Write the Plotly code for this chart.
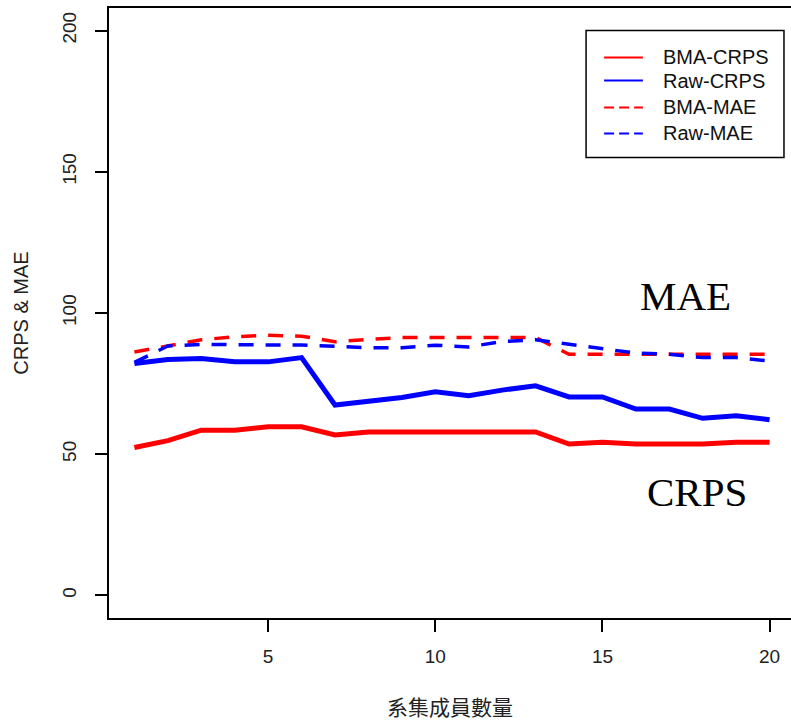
import plotly.graph_objects as go

members = list(range(1, 21))
bma_crps = [52.4, 54.8, 58.5, 58.5, 59.7, 59.7, 56.8, 57.9, 57.9, 57.9,
            57.9, 57.9, 57.9, 53.6, 54.2, 53.6, 53.6, 53.6, 54.2, 54.2]
raw_crps = [82.1, 83.5, 83.9, 82.7, 82.7, 84.2, 67.4, 68.6, 70.1, 72.1,
            70.7, 72.7, 74.2, 70.3, 70.3, 66.0, 66.0, 62.7, 63.6, 62.2]
bma_mae = [86.2, 88.3, 90.5, 91.6, 92.1, 91.8, 89.8, 90.7, 91.3, 91.3,
           91.3, 91.3, 91.3, 85.4, 85.4, 85.4, 85.4, 85.4, 85.4, 85.4]
raw_mae = [82.5, 88.3, 88.9, 88.7, 88.7, 88.7, 88.1, 87.7, 87.7, 88.6,
           88.0, 89.9, 90.5, 88.9, 87.6, 85.8, 85.4, 84.2, 84.2, 83.0]

series_names = ["BMA-CRPS", "Raw-CRPS", "BMA-MAE", "Raw-MAE"]
series_values = [bma_crps, raw_crps, bma_mae, raw_mae]
series_colors = ["#ff0000", "#0000ff", "#ff0000", "#0000ff"]
series_dash = ["solid", "solid", "15px,12px", "15px,12px"]
series_width = [5, 5, 3.5, 3.5]

x_ticks = [5, 10, 15, 20]
y_ticks = [0, 50, 100, 150, 200]

fig = go.Figure()
for name, vals, col, dash, w in zip(series_names, series_values, series_colors,
                                    series_dash, series_width):
    fig.add_trace(go.Scatter(x=members, y=vals, mode="lines", name=name,
                             showlegend=False,
                             line=dict(color=col, width=w, dash=dash)))

# Legend box drawn in data coordinates (top-right, like R's legend("topright"))
shapes = [dict(type="rect", xref="x", yref="y", x0=14.51, x1=20.43, y0=155.1, y1=200.0,
               line=dict(color="black", width=1.5), fillcolor="white", layer="above")]
annotations = []
legend_rows = [190.5, 182.3, 172.8, 163.6]
legend_dash = ["solid", "solid", "10px,5px", "10px,5px"]
for name, col, dash, ry in zip(series_names, series_colors, legend_dash, legend_rows):
    shapes.append(dict(type="line", xref="x", yref="y", x0=15.05, x1=16.21, y0=ry, y1=ry,
                       line=dict(color=col, width=2, dash=dash), layer="above"))
    annotations.append(dict(x=16.75, y=ry, xref="x", yref="y", text=name, showarrow=False,
                            xanchor="left", yanchor="middle",
                            font=dict(family="Liberation Sans, Arial, sans-serif", size=20,
                                      color="#111")))

annotations += [
    dict(x=17.48, y=106, xref="x", yref="y", text="MAE", showarrow=False,
         font=dict(family="Liberation Serif, Times New Roman, serif", size=41, color="black")),
    dict(x=17.84, y=36.5, xref="x", yref="y", text="CRPS", showarrow=False,
         font=dict(family="Liberation Serif, Times New Roman, serif", size=41, color="black")),
]

tick_font = dict(family="Liberation Sans, Arial, sans-serif", size=19, color="#222")

fig.update_layout(
    width=791, height=721,
    margin=dict(l=109, r=0, t=8, b=103),
    plot_bgcolor="white", paper_bgcolor="white",
    showlegend=False,
    shapes=shapes,
    annotations=annotations,
    xaxis=dict(range=[0.24, 20.64], tickvals=x_ticks, ticks="outside", ticklen=12,
               tickwidth=1.5, tickcolor="black", showline=True, linecolor="black",
               linewidth=1.5, mirror=True, showgrid=False, zeroline=False,
               tickfont=tick_font, ticklabelstandoff=8,
               title=dict(text="系集成員數量",
                          font=dict(family="Noto Sans CJK TC, sans-serif", size=21, color="#222"),
                          standoff=35)),
    yaxis=dict(range=[-8, 208], tickvals=y_ticks, ticks="outside", ticklen=12,
               tickwidth=1.5, tickcolor="black", showline=True, linecolor="black",
               linewidth=1.5, mirror=False, showgrid=False, zeroline=False,
               tickfont=tick_font, tickangle=-90, ticklabelstandoff=12,
               title=dict(text="CRPS & MAE",
                          font=dict(family="Liberation Sans, Arial, sans-serif", size=20,
                                    color="#222"),
                          standoff=25)),
)

fig.write_html("out.html")
